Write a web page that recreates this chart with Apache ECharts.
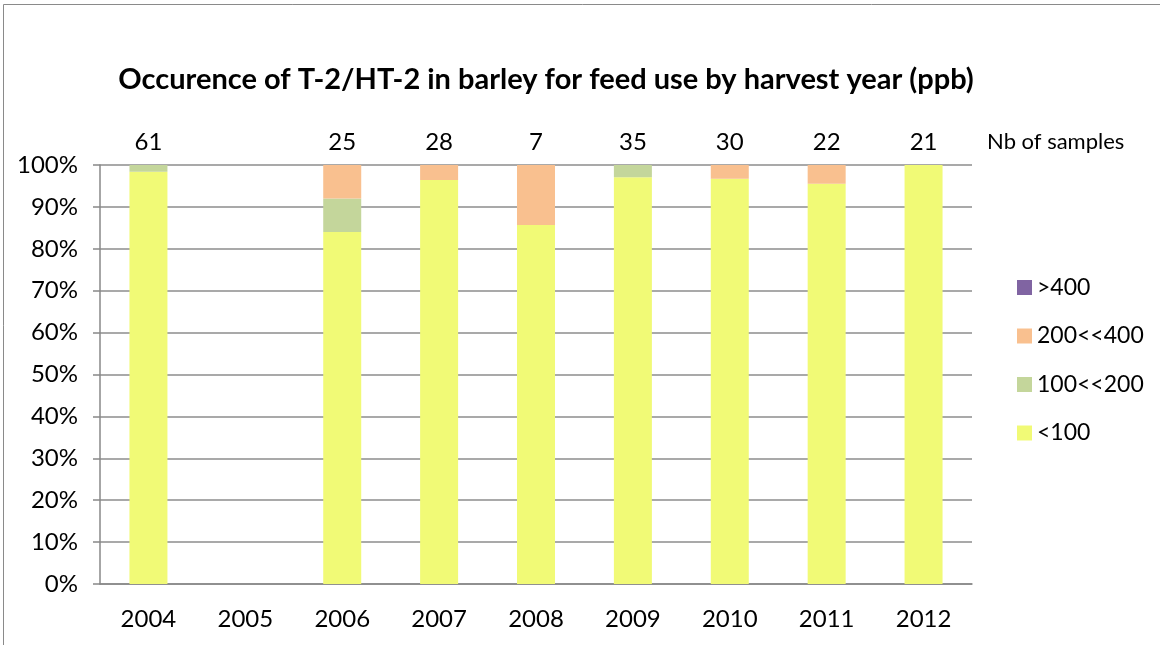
<!DOCTYPE html>
<html><head><meta charset="utf-8">
<script src="https://cdn.jsdelivr.net/npm/echarts@6/dist/echarts.min.js"></script>
<style>html,body{margin:0;padding:0;background:#fff}#c{width:1160px;height:645px}</style>
</head><body><div id="c"></div>
<script>
const years = ['2004','2005','2006','2007','2008','2009','2010','2011','2012'];
const sampleCounts = ['61','','25','28','7','35','30','22','21'];
const below100 = [98.4, null, 84.0, 96.4, 85.7, 97.1, 96.7, 95.5, 100];
const from100to200 = [1.6, null, 8.0, 0, 0, 2.9, 0, 0, 0];
const from200to400 = [0, null, 8.0, 3.6, 14.3, 0, 3.3, 4.5, 0];
const above400 = [0, null, 0, 0, 0, 0, 0, 0, 0];
const yTicks = [0,10,20,30,40,50,60,70,80,90,100];

const font = 'Lato, "Open Sans", sans-serif';
const chart = echarts.init(document.getElementById('c'), null, {renderer:'canvas'});
const mk = (name, data, color) => ({
  name, type:'bar', stack:'t', data, barWidth:38,
  itemStyle:{color}, emphasis:{disabled:true}
});
chart.setOption({
  animation:false,
  textStyle:{fontFamily:font},
  graphic:[
    {type:'rect', shape:{x:3.5,y:4.5,width:1200,height:700}, style:{fill:null, stroke:'#8a8a8a', lineWidth:1}, silent:true},
    {type:'text', x:546, y:80, style:{text:'Occurence of T-2/HT-2 in barley for feed use by harvest year (ppb)', font:'bold 29px '+font, fill:'#000', textAlign:'center', textVerticalAlign:'middle'}},
    {type:'text', x:987, y:142, style:{text:'Nb of samples', font:'22px '+font, fill:'#000', textAlign:'left', textVerticalAlign:'middle'}}
  ],
  legend:{
    orient:'vertical', left:1012, top:271, itemWidth:15, itemHeight:15, itemGap:25.5,
    icon:'rect', textStyle:{fontSize:23, color:'#000', fontFamily:font},
    data:['>400','200<<400','100<<200','<100']
  },
  grid:{left:100, right:188, top:165, bottom:61},
  xAxis:[
    {type:'category', data:years, position:'bottom',
     axisLine:{lineStyle:{color:'#888', width:1.5}},
     axisTick:{length:9, lineStyle:{color:'#888', width:1.5}},
     axisLabel:{fontSize:24, color:'#000', margin:23, fontFamily:font}},
    {type:'category', data:sampleCounts, position:'top',
     axisLine:{show:false}, axisTick:{show:false},
     axisLabel:{fontSize:24, color:'#000', margin:11, fontFamily:font}}
  ],
  yAxis:{type:'value', min:0, max:100, interval:10,
    axisLine:{show:true, lineStyle:{color:'#888', width:1.5}},
    axisTick:{show:true, length:7, lineStyle:{color:'#888', width:1.5}},
    splitLine:{lineStyle:{color:'#8c8c8c', width:1.5}},
    axisLabel:{fontSize:24, color:'#000', margin:22, fontFamily:font,
      formatter:v=> yTicks.includes(v) ? v+'%' : ''}},
  series:[
    mk('<100', below100, '#F1FA76'),
    mk('100<<200', from100to200, '#C4D69B'),
    mk('200<<400', from200to400, '#F9C08F'),
    mk('>400', above400, '#8064A2')
  ]
});
</script></body></html>
